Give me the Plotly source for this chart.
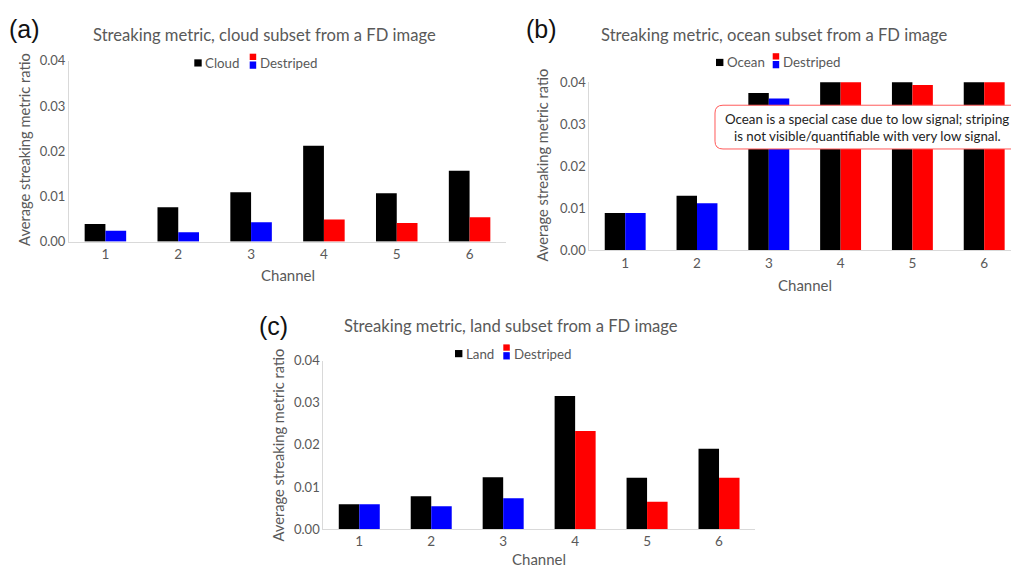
import plotly.graph_objects as go

W, H = 1011, 576

channels = [1, 2, 3, 4, 5, 6]
cloud = [0.0039, 0.0076, 0.0109, 0.0212, 0.0107, 0.0157]
cloud_destriped = [0.0024, 0.0021, 0.0043, 0.0049, 0.0041, 0.0054]
ocean = [0.0089, 0.0130, 0.0374, 0.0415, 0.0415, 0.0415]
ocean_destriped = [0.0089, 0.0112, 0.0361, 0.0415, 0.0393, 0.0415]
land = [0.0059, 0.0078, 0.0123, 0.0316, 0.0122, 0.0191]
land_destriped = [0.0059, 0.0054, 0.0073, 0.0233, 0.0065, 0.0122]
destriped_colors = ["#0000ff"] * 3 + ["#ff0000"] * 3
y_tickvals = [0, 0.01, 0.02, 0.03, 0.04]
y_ticktext = ["0.00", "0.01", "0.02", "0.03", "0.04"]

FONT = "Lato"
GREY = "#595959"


def px(x):
    return x / W


def py(y):
    return 1 - y / H


# pixel geometry of each panel's plotting area (left, right, bottom, top)
panels = [
    dict(l=69, r=506, b=240.3, t=54.3, xr=[0.5, 6.5]),
    dict(l=589.3, r=1011, b=249.3, t=76.3, xr=[0.5, 0.5 + (1011 - 589.3) / 71.8]),
    dict(l=323.3, r=755, b=536, t=362.7, xr=[0.5, 6.5]),
]

series = [
    ("Cloud", cloud, cloud_destriped),
    ("Ocean", ocean, ocean_destriped),
    ("Land", land, land_destriped),
]

fig = go.Figure()
layout = dict(
    width=W, height=H, autosize=False,
    margin=dict(l=0, r=0, t=0, b=0),
    paper_bgcolor="white", plot_bgcolor="white",
    barmode="group", bargap=0.43, bargroupgap=0,
    showlegend=False,
    font=dict(family=FONT, color=GREY),
)

for i, (p, (name, main, dest)) in enumerate(zip(panels, series)):
    sfx = "" if i == 0 else str(i + 1)
    fig.add_trace(go.Bar(x=channels, y=main, name=name, marker_color="black",
                         marker_line_width=0, xaxis="x" + sfx, yaxis="y" + sfx))
    fig.add_trace(go.Bar(x=channels, y=dest, name="Destriped", marker_color=destriped_colors,
                         marker_line_width=0, xaxis="x" + sfx, yaxis="y" + sfx))
    layout["xaxis" + sfx] = dict(
        domain=[px(p["l"]), px(p["r"])], anchor="y" + sfx, range=p["xr"],
        tickvals=channels, ticktext=[str(c) for c in channels],
        showline=True, linecolor="#d9d9d9", linewidth=1, showgrid=False, zeroline=False,
        ticks="", tickfont=dict(size=13.5, color=GREY, family=FONT),
    )
    layout["yaxis" + sfx] = dict(
        domain=[py(p["b"]), py(p["t"])], anchor="x" + sfx, range=[0, 0.04],
        tickvals=y_tickvals, ticktext=y_ticktext,
        showline=True, linecolor="#d9d9d9", linewidth=1, showgrid=False, zeroline=False,
        ticks="", tickfont=dict(size=13, color=GREY, family=FONT),
    )

fig.update_layout(**layout)

annotations = []
shapes = []


def text(x, y, s, size, color=GREY, family=FONT, angle=0, xanchor="center"):
    annotations.append(dict(x=px(x), y=py(y), xref="paper", yref="paper", text=s,
                            showarrow=False, xanchor=xanchor, yanchor="middle",
                            textangle=angle, font=dict(size=size, color=color, family=family)))


def rect(x0, y0, x1, y1, color):
    shapes.append(dict(type="rect", xref="paper", yref="paper", x0=px(x0), x1=px(x1),
                       y0=py(y0), y1=py(y1), fillcolor=color, line=dict(width=0), layer="above"))


# panel labels
text(24, 22, "(a)", 25, color="#111111", family="Liberation Sans")
text(541, 22, "(b)", 25, color="#111111", family="Liberation Sans")
text(273, 327, "(c)", 25, color="#111111", family="Liberation Sans")

# titles
text(264, 28, "Streaking metric, cloud subset from a FD image", 16.6)
text(774, 28, "Streaking metric, ocean subset from a FD image", 16.6)
text(511, 327, "Streaking metric, land subset from a FD image", 16.6)

# axis titles
text(287.5, 275, "Channel", 15)
text(805, 285, "Channel", 15)
text(539, 567, "Channel", 15)
text(24, 146, "Average streaking metric ratio", 14.7, angle=-90)
text(541, 162, "Average streaking metric ratio", 14.7, angle=-90)
text(277, 450, "Average streaking metric ratio", 14.7, angle=-90)

# custom legends: black square + label, split red/blue square + label
legends = [
    (194.3, 56.5, "Cloud", 249.7),
    (716, 56, "Ocean", 772.7),
    (455, 355.5, "Land", 503.3),
]
for (bx, cy, lab, dx) in legends:
    rect(bx, cy - 3.7, bx + 7.4, cy + 3.7, "black")
    text(bx + 8.5, cy, lab, 13.3, xanchor="left")
    rect(dx, cy - 9.5, dx + 6.5, cy - 3, "#ff0000")
    rect(dx, cy - 1.5, dx + 6.5, cy + 6, "#0000ff")
    text(dx + 8.5, cy, "Destriped", 13.3, xanchor="left")

# rounded callout box in panel (b)
bx0, by0, bx1, by1, r = 715, 100, 1020, 145, 8


def P(x, y):
    return f"{px(x):.5f},{py(y):.5f}"


path = (f"M {P(bx0 + r, by0)} L {P(bx1 - r, by0)} Q {P(bx1, by0)} {P(bx1, by0 + r)} "
        f"L {P(bx1, by1 - r)} Q {P(bx1, by1)} {P(bx1 - r, by1)} "
        f"L {P(bx0 + r, by1)} Q {P(bx0, by1)} {P(bx0, by1 - r)} "
        f"L {P(bx0, by0 + r)} Q {P(bx0, by0)} {P(bx0 + r, by0)} Z")
shapes.append(dict(type="path", path=path, xref="paper", yref="paper",
                   fillcolor="white", line=dict(color="#ff5a5a", width=1), layer="above"))
text(867, 114.5, "Ocean is a special case due to low signal; striping", 13.3, color="#222222")
text(867, 131.5, "is not visible/quantifiable with very low signal.", 13.3, color="#222222")

fig.update_layout(annotations=annotations, shapes=shapes)
fig.write_html("out.html")
